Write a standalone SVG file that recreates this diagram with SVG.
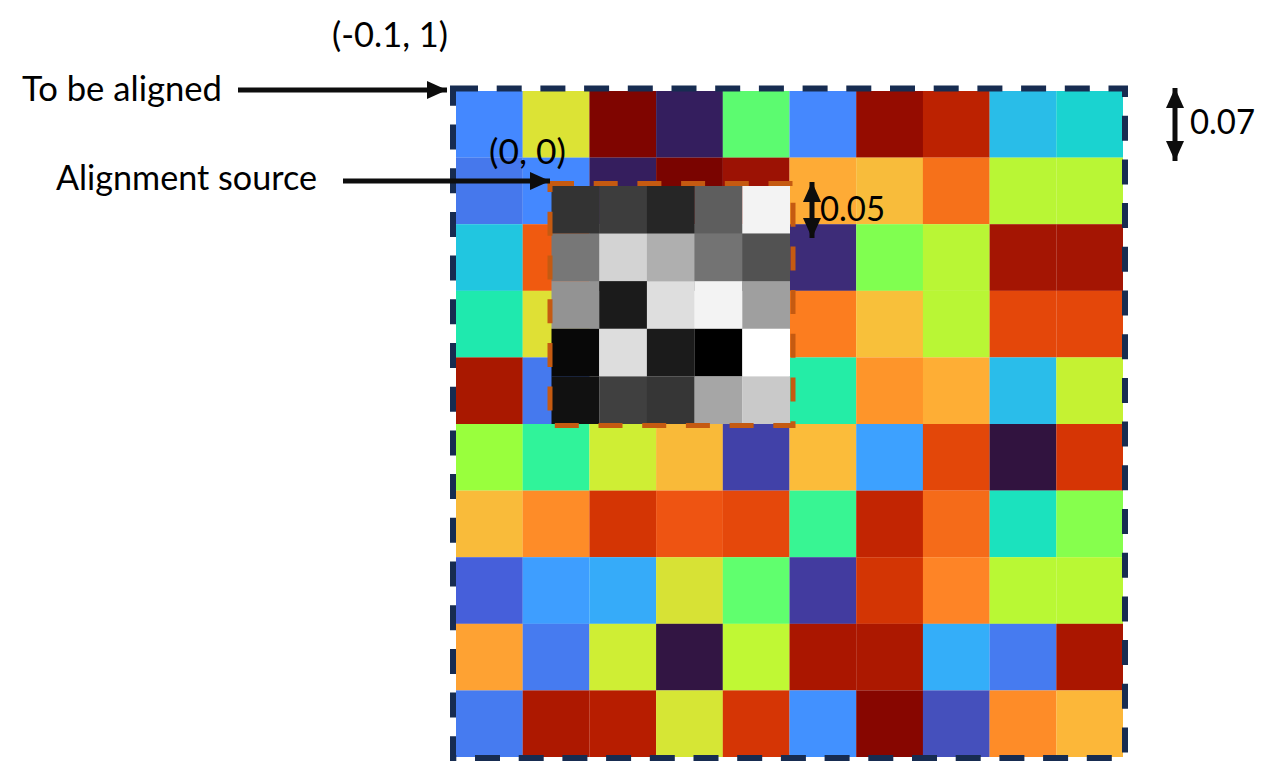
<svg xmlns="http://www.w3.org/2000/svg" width="1280" height="761" viewBox="0 0 1280 761">
<style>
.lbl{font-family:Lato,"Open Sans","DejaVu Sans",sans-serif;font-size:34px;fill:#000}
.arr{stroke:#0d0d0d;stroke-width:5;fill:none}
</style>
<defs>
<marker id="ah" viewBox="0 0 20 18" refX="20" refY="9" markerWidth="20" markerHeight="18" markerUnits="userSpaceOnUse" orient="auto-start-reverse">
<path d="M0,0 L20,9 L0,18 Z" fill="#0d0d0d"/>
</marker>
</defs>
<rect width="1280" height="761" fill="#fff"/>
<g id="grid">
<g transform="translate(456,91)">
<!-- row 0 -->
<rect x="0" y="0" width="66.8" height="66.7" fill="#4488FF"/>
<rect x="66.7" y="0" width="66.8" height="66.7" fill="#DCE335"/>
<rect x="133.4" y="0" width="66.8" height="66.7" fill="#7F0500"/>
<rect x="200.1" y="0" width="66.8" height="66.7" fill="#341E5E"/>
<rect x="266.8" y="0" width="66.8" height="66.7" fill="#5CFB70"/>
<rect x="333.5" y="0" width="66.8" height="66.7" fill="#4588FE"/>
<rect x="400.2" y="0" width="66.8" height="66.7" fill="#950C00"/>
<rect x="466.9" y="0" width="66.8" height="66.7" fill="#BC2201"/>
<rect x="533.6" y="0" width="66.8" height="66.7" fill="#29BDE8"/>
<rect x="600.3" y="0" width="66.7" height="66.7" fill="#1AD3D0"/>
<!-- row 1 -->
<rect x="0" y="66.6" width="66.8" height="66.7" fill="#4678EC"/>
<rect x="66.7" y="66.6" width="66.8" height="66.7" fill="#4488FF"/>
<rect x="133.4" y="66.6" width="66.8" height="66.7" fill="#351E5E"/>
<rect x="200.1" y="66.6" width="66.8" height="66.7" fill="#7A0400"/>
<rect x="266.8" y="66.6" width="66.8" height="66.7" fill="#9C1204"/>
<rect x="333.5" y="66.6" width="66.8" height="66.7" fill="#FEAB36"/>
<rect x="400.2" y="66.6" width="66.8" height="66.7" fill="#F8BC3B"/>
<rect x="466.9" y="66.6" width="66.8" height="66.7" fill="#F6711A"/>
<rect x="533.6" y="66.6" width="66.8" height="66.7" fill="#B9F635"/>
<rect x="600.3" y="66.6" width="66.7" height="66.7" fill="#B9F635"/>
<!-- row 2 -->
<rect x="0" y="133.2" width="66.8" height="66.7" fill="#21C6E0"/>
<rect x="66.7" y="133.2" width="66.8" height="66.7" fill="#F05A10"/>
<rect x="133.4" y="133.2" width="200.2" height="66.7" fill="#777"/>
<rect x="333.5" y="133.2" width="66.8" height="66.7" fill="#3D2C78"/>
<rect x="400.2" y="133.2" width="66.8" height="66.7" fill="#80FF50"/>
<rect x="466.9" y="133.2" width="66.8" height="66.7" fill="#B9F635"/>
<rect x="533.6" y="133.2" width="66.8" height="66.7" fill="#A41503"/>
<rect x="600.3" y="133.2" width="66.7" height="66.7" fill="#A41503"/>
<!-- row 3 -->
<rect x="0" y="199.8" width="66.8" height="66.7" fill="#1FE9AE"/>
<rect x="66.7" y="199.8" width="66.8" height="66.7" fill="#DFE035"/>
<rect x="333.5" y="199.8" width="66.8" height="66.7" fill="#FC7D1F"/>
<rect x="400.2" y="199.8" width="66.8" height="66.7" fill="#F8C03A"/>
<rect x="466.9" y="199.8" width="66.8" height="66.7" fill="#B9F635"/>
<rect x="533.6" y="199.8" width="66.8" height="66.7" fill="#E4470A"/>
<rect x="600.3" y="199.8" width="66.7" height="66.7" fill="#E4470A"/>
<!-- row 4 -->
<rect x="0" y="266.4" width="66.8" height="66.7" fill="#A91800"/>
<rect x="66.7" y="266.4" width="66.8" height="66.7" fill="#4579EE"/>
<rect x="333.5" y="266.4" width="66.8" height="66.7" fill="#24EDA6"/>
<rect x="400.2" y="266.4" width="66.8" height="66.7" fill="#FE952A"/>
<rect x="466.9" y="266.4" width="66.8" height="66.7" fill="#FEAE35"/>
<rect x="533.6" y="266.4" width="66.8" height="66.7" fill="#2ABDEA"/>
<rect x="600.3" y="266.4" width="66.7" height="66.7" fill="#C5F232"/>
<!-- row 5 -->
<rect x="0" y="333" width="66.8" height="66.7" fill="#99FF3D"/>
<rect x="66.7" y="333" width="66.8" height="66.7" fill="#30F39A"/>
<rect x="133.4" y="333" width="66.8" height="66.7" fill="#CFEE34"/>
<rect x="200.1" y="333" width="66.8" height="66.7" fill="#F9BA39"/>
<rect x="266.8" y="333" width="66.8" height="66.7" fill="#4141A8"/>
<rect x="333.5" y="333" width="66.8" height="66.7" fill="#FBBC3A"/>
<rect x="400.2" y="333" width="66.8" height="66.7" fill="#3DA1FF"/>
<rect x="466.9" y="333" width="66.8" height="66.7" fill="#E34709"/>
<rect x="533.6" y="333" width="66.8" height="66.7" fill="#31133F"/>
<rect x="600.3" y="333" width="66.7" height="66.7" fill="#D63505"/>
<!-- row 6 -->
<rect x="0" y="399.6" width="66.8" height="66.7" fill="#F9BB3A"/>
<rect x="66.7" y="399.6" width="66.8" height="66.7" fill="#FE8C28"/>
<rect x="133.4" y="399.6" width="66.8" height="66.7" fill="#D43504"/>
<rect x="200.1" y="399.6" width="66.8" height="66.7" fill="#EE5412"/>
<rect x="266.8" y="399.6" width="66.8" height="66.7" fill="#E5480B"/>
<rect x="333.5" y="399.6" width="66.8" height="66.7" fill="#38F593"/>
<rect x="400.2" y="399.6" width="66.8" height="66.7" fill="#C22502"/>
<rect x="466.9" y="399.6" width="66.8" height="66.7" fill="#F56B19"/>
<rect x="533.6" y="399.6" width="66.8" height="66.7" fill="#1BE2BE"/>
<rect x="600.3" y="399.6" width="66.7" height="66.7" fill="#86FF4D"/>
<!-- row 7 -->
<rect x="0" y="466.2" width="66.8" height="66.7" fill="#465FDA"/>
<rect x="66.7" y="466.2" width="66.8" height="66.7" fill="#3E9EFF"/>
<rect x="133.4" y="466.2" width="66.8" height="66.7" fill="#36ABF9"/>
<rect x="200.1" y="466.2" width="66.8" height="66.7" fill="#D7E235"/>
<rect x="266.8" y="466.2" width="66.8" height="66.7" fill="#60FF6E"/>
<rect x="333.5" y="466.2" width="66.8" height="66.7" fill="#423B9F"/>
<rect x="400.2" y="466.2" width="66.8" height="66.7" fill="#D33504"/>
<rect x="466.9" y="466.2" width="66.8" height="66.7" fill="#FE8426"/>
<rect x="533.6" y="466.2" width="66.8" height="66.7" fill="#B9F834"/>
<rect x="600.3" y="466.2" width="66.7" height="66.7" fill="#B9F834"/>
<!-- row 8 -->
<rect x="0" y="532.8" width="66.8" height="66.7" fill="#FEA233"/>
<rect x="66.7" y="532.8" width="66.8" height="66.7" fill="#467BF0"/>
<rect x="133.4" y="532.8" width="66.8" height="66.7" fill="#CFEE34"/>
<rect x="200.1" y="532.8" width="66.8" height="66.7" fill="#321543"/>
<rect x="266.8" y="532.8" width="66.8" height="66.7" fill="#C0F834"/>
<rect x="333.5" y="532.8" width="66.8" height="66.7" fill="#AA1600"/>
<rect x="400.2" y="532.8" width="66.8" height="66.7" fill="#AC1800"/>
<rect x="466.9" y="532.8" width="66.8" height="66.7" fill="#34AEF9"/>
<rect x="533.6" y="532.8" width="66.8" height="66.7" fill="#467BF0"/>
<rect x="600.3" y="532.8" width="66.7" height="66.7" fill="#AA1600"/>
<!-- row 9 -->
<rect x="0" y="599.4" width="66.8" height="66.6" fill="#467BF0"/>
<rect x="66.7" y="599.4" width="66.8" height="66.6" fill="#AD1800"/>
<rect x="133.4" y="599.4" width="66.8" height="66.6" fill="#B71D00"/>
<rect x="200.1" y="599.4" width="66.8" height="66.6" fill="#D6E635"/>
<rect x="266.8" y="599.4" width="66.8" height="66.6" fill="#D53505"/>
<rect x="333.5" y="599.4" width="66.8" height="66.6" fill="#4291FF"/>
<rect x="400.2" y="599.4" width="66.8" height="66.6" fill="#870600"/>
<rect x="466.9" y="599.4" width="66.8" height="66.6" fill="#4550BC"/>
<rect x="533.6" y="599.4" width="66.8" height="66.6" fill="#FE8C28"/>
<rect x="600.3" y="599.4" width="66.7" height="66.6" fill="#FCB739"/>
</g>
<rect id="outer-frame" x="453" y="88.5" width="672" height="669.5" fill="none" stroke="#172C51" stroke-width="6" stroke-dasharray="25 18.7"/>
</g>
<g id="source">
<g transform="translate(551.5,186)">
<rect x="0" y="0" width="47.8" height="47.7" fill="#333"/>
<rect x="47.7" y="0" width="47.8" height="47.7" fill="#3D3D3D"/>
<rect x="95.4" y="0" width="47.8" height="47.7" fill="#262626"/>
<rect x="143.1" y="0" width="47.8" height="47.7" fill="#5E5E5E"/>
<rect x="190.8" y="0" width="47.7" height="47.7" fill="#F3F3F3"/>
<rect x="0" y="47.6" width="47.8" height="47.7" fill="#777"/>
<rect x="47.7" y="47.6" width="47.8" height="47.7" fill="#D3D3D3"/>
<rect x="95.4" y="47.6" width="47.8" height="47.7" fill="#AFAFAF"/>
<rect x="143.1" y="47.6" width="47.8" height="47.7" fill="#737373"/>
<rect x="190.8" y="47.6" width="47.7" height="47.7" fill="#525252"/>
<rect x="0" y="95.2" width="47.8" height="47.7" fill="#939393"/>
<rect x="47.7" y="95.2" width="47.8" height="47.7" fill="#1B1B1B"/>
<rect x="95.4" y="95.2" width="47.8" height="47.7" fill="#DEDEDE"/>
<rect x="143.1" y="95.2" width="47.8" height="47.7" fill="#F3F3F3"/>
<rect x="190.8" y="95.2" width="47.7" height="47.7" fill="#9F9F9F"/>
<rect x="0" y="142.8" width="47.8" height="47.7" fill="#080808"/>
<rect x="47.7" y="142.8" width="47.8" height="47.7" fill="#DDD"/>
<rect x="95.4" y="142.8" width="47.8" height="47.7" fill="#1B1B1B"/>
<rect x="143.1" y="142.8" width="47.8" height="47.7" fill="#000"/>
<rect x="190.8" y="142.8" width="47.7" height="47.7" fill="#FFF"/>
<rect x="0" y="190.4" width="47.8" height="47.6" fill="#111"/>
<rect x="47.7" y="190.4" width="47.8" height="47.6" fill="#404040"/>
<rect x="95.4" y="190.4" width="47.8" height="47.6" fill="#363636"/>
<rect x="143.1" y="190.4" width="47.8" height="47.6" fill="#A6A6A6"/>
<rect x="190.8" y="190.4" width="47.7" height="47.6" fill="#C9C9C9"/>
</g>
<rect id="source-frame" x="550" y="183.5" width="243" height="242" fill="none" stroke="#C55A11" stroke-width="5" stroke-dasharray="24 19.7"/>
</g>
<g id="connectors">
<line class="arr" x1="238" y1="90" x2="447" y2="90" marker-end="url(#ah)"/>
<line class="arr" x1="343" y1="181" x2="550" y2="181" marker-end="url(#ah)"/>
<line class="arr" x1="1175" y1="88" x2="1175" y2="161" marker-start="url(#ah)" marker-end="url(#ah)"/>
<line class="arr" x1="812" y1="182" x2="812" y2="238" marker-start="url(#ah)" marker-end="url(#ah)"/>
</g>
<g id="labels">
<text class="lbl" x="22" y="101" textLength="200" lengthAdjust="spacingAndGlyphs">To be aligned</text>
<text class="lbl" x="56" y="190" textLength="261" lengthAdjust="spacingAndGlyphs">Alignment source</text>
<text class="lbl" x="332" y="47" textLength="116" lengthAdjust="spacingAndGlyphs">(-0.1, 1)</text>
<text class="lbl" x="489" y="164" textLength="77" lengthAdjust="spacingAndGlyphs">(0, 0)</text>
<text class="lbl" x="820" y="221" textLength="65" lengthAdjust="spacingAndGlyphs">0.05</text>
<text class="lbl" x="1190" y="134" textLength="65" lengthAdjust="spacingAndGlyphs">0.07</text>
</g>
</svg>
